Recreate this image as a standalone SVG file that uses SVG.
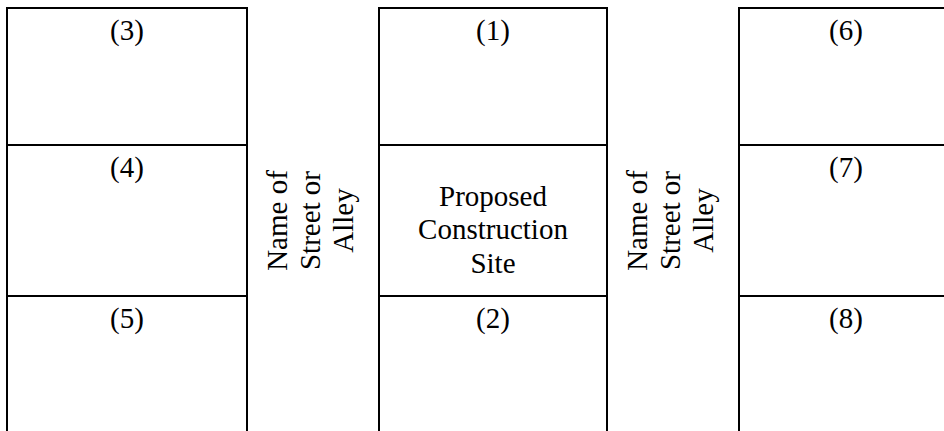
<svg xmlns="http://www.w3.org/2000/svg" width="944" height="431" viewBox="0 0 944 431">
<style>
.box{fill:#fff;stroke:#000;stroke-width:2}
.t{font-family:'Liberation Serif','Times New Roman',Tinos,'DejaVu Serif',serif;font-size:29px;fill:#000;text-anchor:middle}
</style>
<rect width="944" height="431" fill="#fff"/>
<g id="lot3"><rect class="box" x="7" y="8" width="240" height="137"/><text class="t" x="127" y="39.5">(3)</text></g>
<g id="lot4"><rect class="box" x="7" y="145" width="240" height="151"/><text class="t" x="127" y="176.5">(4)</text></g>
<g id="lot5"><rect class="box" x="7" y="296" width="240" height="150"/><text class="t" x="127" y="327.5">(5)</text></g>
<g id="street-left"><text class="t" transform="rotate(-90)"><tspan x="-220.5" y="287">Name of</tspan><tspan x="-220.5" y="320">Street or</tspan><tspan x="-220.5" y="353">Alley</tspan></text></g>
<g id="lot1"><rect class="box" x="379" y="8" width="228" height="137"/><text class="t" x="493" y="39.5">(1)</text></g>
<g id="site"><rect class="box" x="379" y="145" width="228" height="151"/><text class="t"><tspan x="493" y="205.5">Proposed</tspan><tspan x="493" y="239">Construction</tspan><tspan x="493" y="272.5">Site</tspan></text></g>
<g id="lot2"><rect class="box" x="379" y="296" width="228" height="150"/><text class="t" x="493" y="327.5">(2)</text></g>
<g id="street-right"><text class="t" transform="rotate(-90)"><tspan x="-220.5" y="647">Name of</tspan><tspan x="-220.5" y="680">Street or</tspan><tspan x="-220.5" y="713">Alley</tspan></text></g>
<g id="lot6"><rect class="box" x="739" y="8" width="214" height="137"/><text class="t" x="846" y="39.5">(6)</text></g>
<g id="lot7"><rect class="box" x="739" y="145" width="214" height="151"/><text class="t" x="846" y="176.5">(7)</text></g>
<g id="lot8"><rect class="box" x="739" y="296" width="214" height="150"/><text class="t" x="846" y="327.5">(8)</text></g>
<g id="connectors"/>
</svg>
